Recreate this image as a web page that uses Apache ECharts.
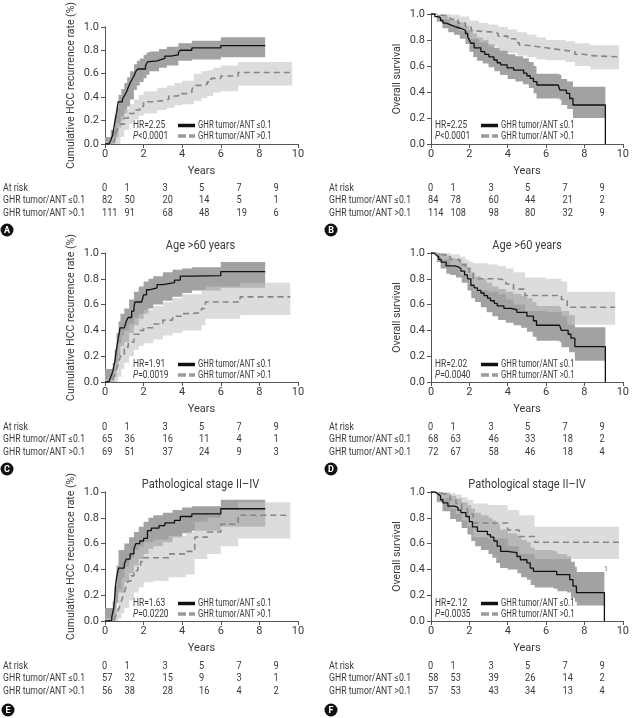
<!DOCTYPE html>
<html><head><meta charset="utf-8">
<script src="https://cdn.jsdelivr.net/npm/echarts@6/dist/echarts.min.js"></script>
<style>html,body{margin:0;padding:0;background:#fff}#c{width:632px;height:718px}</style>
</head><body><div id="c"></div>
<script>
// ---------- DATA ----------
const xTicks = [0, 2, 4, 6, 8, 10];
const riskYears = [0, 1, 3, 5, 7, 9];
const groupNames = ['GHR tumor/ANT \u22640.1', 'GHR tumor/ANT >0.1'];

// Panel A: cumulative HCC recurrence
const A_g1 = [[0,0],[0.2,0.01],[0.3,0.03],[0.4,0.08],[0.5,0.18],[0.6,0.27],[0.68,0.36],[0.9,0.38],[1.0,0.41],[1.1,0.44],[1.2,0.48],[1.3,0.52],[1.4,0.55],[1.5,0.58],[1.6,0.62],[1.7,0.64],[2.1,0.67],[2.2,0.70],[2.3,0.71],[2.7,0.72],[2.9,0.73],[3.1,0.75],[3.4,0.76],[3.8,0.78],[3.9,0.80],[4.5,0.82],[6.0,0.84],[8.3,0.84]];
const A_g2 = [[0,0],[0.3,0.02],[0.5,0.07],[0.6,0.11],[0.7,0.14],[0.8,0.17],[1.0,0.22],[1.2,0.26],[1.5,0.29],[1.8,0.32],[2.0,0.36],[2.5,0.37],[3.0,0.38],[3.3,0.41],[3.8,0.43],[4.2,0.44],[4.5,0.46],[4.6,0.50],[5.0,0.51],[5.3,0.53],[5.5,0.56],[6.0,0.58],[6.9,0.61],[9.7,0.61]];
const A_b1 = [[0,0,0.06],[0.3,0,0.12],[0.5,0.04,0.25],[0.6,0.06,0.31],[0.7,0.14,0.42],[0.85,0.2,0.47],[1.0,0.26,0.52],[1.15,0.32,0.57],[1.3,0.38,0.62],[1.5,0.46,0.68],[1.65,0.5,0.71],[1.8,0.53,0.73],[2.0,0.56,0.76],[2.15,0.59,0.78],[2.3,0.62,0.79],[2.8,0.65,0.81],[3.2,0.67,0.83],[3.8,0.71,0.86],[4.5,0.72,0.88],[6.0,0.74,0.91],[8.3,0.74,0.91]];
const A_b2 = [[0,0,0.02],[0.3,0,0.06],[0.6,0,0.18],[0.8,0.06,0.24],[1.0,0.12,0.30],[1.25,0.17,0.34],[1.5,0.21,0.38],[1.75,0.24,0.42],[2.0,0.26,0.45],[2.7,0.29,0.48],[3.2,0.31,0.50],[3.6,0.33,0.52],[4.0,0.34,0.54],[4.6,0.37,0.60],[5.0,0.39,0.62],[5.3,0.41,0.63],[5.6,0.44,0.65],[6.0,0.45,0.67],[6.9,0.50,0.70],[9.7,0.50,0.70]];
const A_risk1 = [82, 50, 20, 14, 5, 1];
const A_risk2 = [111, 91, 68, 48, 19, 6];

// Panel B: overall survival
const B_g1 = [[0,1],[0.2,0.98],[0.36,0.97],[0.5,0.95],[0.62,0.93],[0.8,0.915],[1.05,0.90],[1.3,0.89],[1.56,0.875],[1.8,0.85],[1.91,0.826],[2.0,0.80],[2.08,0.775],[2.25,0.74],[2.6,0.71],[2.8,0.69],[3.02,0.67],[3.28,0.646],[3.45,0.625],[3.63,0.608],[3.97,0.585],[4.31,0.569],[4.83,0.545],[5.0,0.525],[5.17,0.505],[5.34,0.48],[5.52,0.454],[6.63,0.454],[6.72,0.415],[7.06,0.39],[7.23,0.35],[7.4,0.30],[9.09,0.30],[9.09,0]];
const B_g2 = [[0,1],[0.3,0.99],[0.6,0.98],[1.0,0.96],[1.4,0.93],[1.8,0.90],[2.1,0.87],[2.3,0.86],[3.3,0.85],[3.5,0.83],[4.0,0.81],[4.4,0.78],[4.6,0.76],[5.0,0.75],[5.5,0.74],[6.0,0.73],[6.5,0.72],[7.0,0.71],[7.5,0.69],[8.0,0.68],[8.3,0.67],[9.8,0.67]];
const B_b1 = [[0,1,1],[0.3,0.94,0.995],[0.6,0.89,0.98],[0.9,0.86,0.96],[1.2,0.84,0.95],[1.5,0.81,0.935],[1.8,0.77,0.91],[2.0,0.71,0.88],[2.2,0.67,0.85],[2.4,0.64,0.82],[2.7,0.62,0.80],[3.0,0.59,0.77],[3.3,0.56,0.74],[3.6,0.53,0.72],[4.0,0.50,0.69],[4.4,0.48,0.675],[4.8,0.46,0.66],[5.1,0.43,0.63],[5.35,0.39,0.60],[5.5,0.35,0.54],[6.7,0.34,0.53],[6.8,0.30,0.50],[7.1,0.27,0.48],[7.4,0.20,0.44],[9.09,0.20,0.44]];
const B_b2 = [[0,1,1],[0.5,0.96,1],[1.0,0.92,0.995],[1.5,0.87,0.98],[2.0,0.81,0.95],[2.5,0.78,0.93],[3.0,0.75,0.92],[3.5,0.72,0.90],[4.0,0.70,0.88],[4.5,0.68,0.86],[5.0,0.67,0.84],[5.5,0.65,0.82],[6.0,0.645,0.80],[7.0,0.63,0.79],[7.5,0.60,0.775],[8.3,0.575,0.76],[9.8,0.575,0.76]];
const B_risk1 = [84, 78, 60, 44, 21, 2];
const B_risk2 = [114, 108, 98, 80, 32, 9];

// Panel C: recurrence, age > 60
const C_g1 = [[0,0],[0.2,0.01],[0.3,0.04],[0.4,0.08],[0.5,0.15],[0.6,0.26],[0.7,0.35],[0.78,0.42],[1.0,0.43],[1.1,0.47],[1.2,0.50],[1.38,0.55],[1.5,0.58],[1.55,0.62],[1.9,0.625],[2.0,0.675],[2.15,0.715],[2.3,0.73],[2.7,0.755],[3.0,0.77],[3.6,0.79],[3.9,0.82],[4.5,0.825],[6.0,0.855],[8.3,0.855]];
const C_g2 = [[0,0],[0.4,0.02],[0.5,0.06],[0.6,0.10],[0.7,0.15],[0.8,0.20],[1.0,0.27],[1.2,0.31],[1.5,0.37],[1.8,0.40],[2.0,0.42],[2.5,0.45],[3.0,0.48],[3.5,0.51],[4.0,0.53],[4.5,0.54],[5.0,0.57],[5.2,0.62],[7.0,0.66],[9.6,0.66]];
const C_b1 = [[0,0,0.1],[0.4,0,0.15],[0.5,0.04,0.25],[0.6,0.12,0.38],[0.7,0.2,0.47],[0.8,0.28,0.53],[1.0,0.31,0.57],[1.25,0.38,0.64],[1.5,0.44,0.70],[1.75,0.49,0.74],[2.0,0.53,0.78],[2.25,0.57,0.80],[2.5,0.60,0.82],[3.0,0.63,0.85],[3.5,0.66,0.87],[4.0,0.69,0.88],[4.5,0.71,0.89],[6.0,0.73,0.93],[8.3,0.73,0.93]];
const C_b2 = [[0,0,0.02],[0.4,0,0.08],[0.5,0,0.15],[0.7,0.04,0.30],[0.85,0.1,0.36],[1.0,0.15,0.40],[1.25,0.2,0.45],[1.5,0.25,0.50],[1.75,0.28,0.53],[2.0,0.30,0.56],[2.5,0.33,0.59],[3.0,0.36,0.62],[3.5,0.38,0.65],[4.0,0.40,0.68],[5.0,0.44,0.71],[5.2,0.49,0.74],[7.0,0.52,0.77],[9.6,0.52,0.77]];
const C_risk1 = [65, 36, 16, 11, 4, 1];
const C_risk2 = [69, 51, 37, 24, 9, 3];

// Panel D: survival, age > 60
const D_g1 = [[0,1],[0.15,0.985],[0.27,0.97],[0.4,0.95],[0.53,0.93],[0.79,0.90],[1.22,0.895],[1.4,0.88],[1.56,0.86],[1.75,0.83],[1.9,0.80],[2.08,0.75],[2.25,0.73],[2.42,0.71],[2.6,0.69],[2.77,0.67],[2.95,0.65],[3.1,0.63],[3.3,0.61],[3.45,0.59],[3.8,0.57],[4.14,0.56],[4.48,0.54],[5.0,0.51],[5.34,0.475],[5.5,0.44],[6.7,0.44],[6.8,0.40],[7.15,0.37],[7.3,0.34],[7.5,0.275],[9.09,0.275],[9.09,0]];
const D_g2 = [[0,1],[0.3,0.99],[0.5,0.98],[1.0,0.95],[1.5,0.91],[1.8,0.88],[2.0,0.85],[2.2,0.80],[3.5,0.79],[3.9,0.76],[4.3,0.72],[4.9,0.67],[6.8,0.64],[7.1,0.58],[9.6,0.58]];
const D_b1 = [[0,1,1],[0.3,0.93,1],[0.5,0.88,0.99],[0.8,0.84,0.98],[1.0,0.83,0.96],[1.3,0.81,0.95],[1.6,0.77,0.92],[1.9,0.71,0.89],[2.1,0.65,0.85],[2.3,0.62,0.82],[2.6,0.58,0.80],[2.9,0.54,0.77],[3.2,0.51,0.74],[3.5,0.48,0.72],[3.9,0.46,0.70],[4.3,0.44,0.685],[4.7,0.42,0.67],[5.0,0.39,0.65],[5.3,0.35,0.62],[5.5,0.32,0.59],[6.7,0.31,0.58],[6.8,0.27,0.55],[7.2,0.23,0.52],[7.5,0.165,0.425],[9.09,0.165,0.425]];
const D_b2 = [[0,1,1],[0.5,0.95,1],[1.0,0.89,0.99],[1.5,0.83,0.97],[1.8,0.79,0.95],[2.0,0.75,0.93],[2.2,0.71,0.92],[3.0,0.70,0.91],[3.5,0.68,0.90],[3.9,0.64,0.88],[4.3,0.60,0.85],[4.9,0.55,0.81],[6.0,0.54,0.80],[6.8,0.51,0.78],[7.1,0.443,0.70],[9.6,0.443,0.70]];
const D_risk1 = [68, 63, 46, 33, 18, 2];
const D_risk2 = [72, 67, 58, 46, 18, 4];

// Panel E: recurrence, pathological stage II-IV
const E_g1 = [[0,0],[0.2,0.005],[0.35,0.03],[0.45,0.1],[0.5,0.18],[0.55,0.28],[0.6,0.34],[0.7,0.41],[1.0,0.44],[1.1,0.48],[1.3,0.52],[1.5,0.56],[1.6,0.60],[1.8,0.62],[2.0,0.64],[2.2,0.70],[2.4,0.72],[2.8,0.74],[3.1,0.76],[3.6,0.78],[3.9,0.81],[4.5,0.83],[6.0,0.87],[8.3,0.87]];
const E_g2 = [[0,0],[0.5,0.02],[0.6,0.05],[0.7,0.09],[0.8,0.13],[0.9,0.18],[1.0,0.22],[1.1,0.27],[1.2,0.31],[1.35,0.35],[1.5,0.39],[1.7,0.43],[1.85,0.46],[2.0,0.49],[3.3,0.52],[4.2,0.54],[4.65,0.65],[5.3,0.69],[6.0,0.75],[6.9,0.82],[9.6,0.82]];
const E_b1 = [[0,0,0.1],[0.4,0,0.15],[0.5,0.04,0.27],[0.6,0.14,0.43],[0.7,0.22,0.55],[1.0,0.30,0.60],[1.25,0.37,0.65],[1.5,0.43,0.69],[1.75,0.48,0.73],[2.0,0.52,0.77],[2.25,0.56,0.80],[2.5,0.58,0.82],[3.0,0.61,0.84],[3.5,0.65,0.86],[4.0,0.68,0.88],[4.5,0.70,0.89],[6.0,0.73,0.94],[8.3,0.73,0.94]];
const E_b2 = [[0,0,0.02],[0.5,0,0.1],[0.7,0.02,0.25],[0.85,0.06,0.34],[1.0,0.10,0.42],[1.25,0.16,0.49],[1.5,0.22,0.55],[1.75,0.26,0.58],[2.0,0.30,0.61],[2.5,0.31,0.63],[3.3,0.34,0.66],[4.2,0.36,0.69],[4.65,0.48,0.77],[5.3,0.52,0.80],[6.0,0.58,0.86],[6.9,0.64,0.92],[9.6,0.64,0.92]];
const E_risk1 = [57, 32, 15, 9, 3, 1];
const E_risk2 = [56, 38, 28, 16, 4, 2];

// Panel F: survival, pathological stage II-IV
const F_g1 = [[0,1],[0.2,0.985],[0.36,0.97],[0.5,0.94],[0.62,0.915],[0.88,0.89],[1.22,0.88],[1.4,0.86],[1.56,0.84],[1.82,0.81],[2.0,0.77],[2.16,0.73],[2.42,0.695],[2.94,0.67],[3.1,0.65],[3.28,0.62],[3.45,0.58],[3.63,0.54],[3.97,0.53],[4.48,0.50],[4.66,0.475],[5.0,0.45],[5.17,0.41],[5.34,0.385],[6.4,0.385],[6.55,0.36],[7.06,0.36],[7.23,0.32],[7.4,0.27],[7.58,0.22],[9.04,0.22],[9.04,0]];
const F_g2 = [[0,1],[0.3,0.99],[0.5,0.98],[1.0,0.94],[1.3,0.91],[1.6,0.87],[1.9,0.83],[2.2,0.76],[4.0,0.705],[4.6,0.655],[5.4,0.61],[9.8,0.61]];
const F_b1 = [[0,1,1],[0.3,0.92,1],[0.6,0.85,0.99],[1.0,0.79,0.97],[1.3,0.77,0.95],[1.6,0.72,0.92],[1.9,0.67,0.90],[2.1,0.62,0.87],[2.3,0.58,0.84],[2.6,0.55,0.82],[3.0,0.52,0.80],[3.2,0.49,0.78],[3.4,0.45,0.75],[3.6,0.41,0.71],[4.0,0.40,0.68],[4.5,0.37,0.66],[4.7,0.34,0.63],[5.0,0.32,0.61],[5.2,0.28,0.57],[5.4,0.26,0.55],[6.4,0.25,0.54],[6.6,0.23,0.52],[7.1,0.22,0.50],[7.3,0.18,0.46],[7.5,0.15,0.42],[7.6,0.12,0.38],[9.04,0.12,0.38]];
const F_b2 = [[0,1,1],[0.5,0.95,1],[1.0,0.87,0.99],[1.3,0.83,0.98],[1.6,0.78,0.96],[1.9,0.73,0.94],[2.2,0.65,0.91],[3.0,0.64,0.90],[4.0,0.58,0.86],[4.6,0.52,0.82],[5.4,0.48,0.73],[9.8,0.48,0.73]];
const F_risk1 = [58, 53, 39, 26, 14, 2];
const F_risk2 = [57, 53, 43, 34, 13, 4];

const panelLetters = ['A', 'B', 'C', 'D', 'E', 'F'];
const panelTitles = ['', '', 'Age >60 years', 'Age >60 years', 'Pathological stage II\u2013IV', 'Pathological stage II\u2013IV'];
const hrValues = ['2.25', '2.25', '1.91', '2.02', '1.63', '2.12'];
const pValues = ['<0.0001', '<0.0001', '=0.0019', '=0.0040', '=0.0220', '=0.0035'];
const yNames = ['Cumulative HCC recurrence rate (%)', 'Overall survival'];

// ---------- LAYOUT / STYLE ----------
const FONT = 'Roboto, "Noto Sans", sans-serif';
const TXT = '#3a3a3a';
const layout = [
  {left: 105, top: 14, w: 193, h: 130, kind: 0},
  {left: 431, top: 14, w: 194, h: 130, kind: 1},
  {left: 105, top: 253, w: 193, h: 129, kind: 0},
  {left: 431, top: 253, w: 194, h: 129, kind: 1},
  {left: 105, top: 492, w: 193, h: 129, kind: 0},
  {left: 431, top: 492, w: 194, h: 129, kind: 1}
];
const panelData = [
  [A_g1, A_g2, A_b1, A_b2, A_risk1, A_risk2],
  [B_g1, B_g2, B_b1, B_b2, B_risk1, B_risk2],
  [C_g1, C_g2, C_b1, C_b2, C_risk1, C_risk2],
  [D_g1, D_g2, D_b1, D_b2, D_risk1, D_risk2],
  [E_g1, E_g2, E_b1, E_b2, E_risk1, E_risk2],
  [F_g1, F_g2, F_b1, F_b2, F_risk1, F_risk2]
];
const riskColOffsets = [-3, 19.5, 57.5, 94, 131.5, 168.5];
const letterPos = [[7,230],[331,230],[7,469],[331,469],[8,710],[331,710]];

const chart = echarts.init(document.getElementById('c'), null, {renderer: 'canvas'});
const grids = [], xAxes = [], yAxes = [], series = [], graphics = [];

// Step-shaped confidence band drawn as one polygon through the axis scales
function bandSeries(i, band, color, z) {
  series.push({
    type: 'custom', xAxisIndex: i, yAxisIndex: i, silent: true, z: z, clip: true,
    dimensions: ['t', 'lo', 'hi'],
    encode: {x: 0, y: [1, 2]},
    data: band,
    renderItem: function (params, api) {
      if (params.dataIndexInside !== 0) return null;
      const n = params.dataInsideLength;
      const upper = [], lower = [];
      for (let k = 0; k < n; k++) {
        const t = api.value(0, k), lo = api.value(1, k), hi = api.value(2, k);
        const tNext = k < n - 1 ? api.value(0, k + 1) : t;
        upper.push(api.coord([t, hi]), api.coord([tNext, hi]));
        lower.push(api.coord([t, lo]), api.coord([tNext, lo]));
      }
      const pts = upper.concat(lower.reverse());
      return {type: 'polygon', shape: {points: pts}, style: {fill: color, stroke: null}};
    }
  });
}

function txt(x, y, text, style, sx) {
  graphics.push({
    type: 'text', x: x, y: y, silent: true, scaleX: sx || 1,
    style: Object.assign({text: text, fill: TXT, font: '10px ' + FONT, textAlign: 'left', textVerticalAlign: 'middle'}, style || {})
  });
}

layout.forEach((L, i) => {
  const [g1, g2, b1, b2, r1, r2] = panelData[i];
  grids.push({left: L.left, top: L.top, width: L.w, height: L.h, containLabel: false});
  xAxes.push({
    type: 'value', gridIndex: i, min: 0, max: 10, interval: 2,
    name: 'Years', nameLocation: 'middle', nameGap: 22,
    nameTextStyle: {fontFamily: FONT, fontSize: 11, color: TXT},
    axisLine: {show: true, lineStyle: {color: '#555', width: 1}},
    axisTick: {show: true, inside: false, length: 4, lineStyle: {color: '#555'}},
    axisLabel: {fontFamily: FONT, fontSize: 11, color: TXT, margin: 5},
    splitLine: {show: false}
  });
  yAxes.push({
    type: 'value', gridIndex: i, min: 0, max: 1, interval: 0.2,
    name: yNames[L.kind], nameLocation: 'middle', nameGap: 28,
    nameTextStyle: {fontFamily: FONT, fontSize: 10.5, color: TXT},
    axisLine: {show: true, lineStyle: {color: '#555', width: 1}},
    axisTick: {show: true, inside: false, length: 4, lineStyle: {color: '#555'}},
    axisLabel: {fontFamily: FONT, fontSize: 11, color: TXT, margin: 6, formatter: v => v.toFixed(1)},
    splitLine: {show: false}
  });
  bandSeries(i, b1, '#a2a2a2', 2);
  bandSeries(i, b2, 'rgba(196,196,196,0.6)', 3);
  series.push({type: 'line', xAxisIndex: i, yAxisIndex: i, step: 'end', symbol: 'none', silent: true, z: 5,
    lineStyle: {color: '#858585', width: 1.6, type: [6, 4]}, data: g2});
  series.push({type: 'line', xAxisIndex: i, yAxisIndex: i, step: 'end', symbol: 'none', silent: true, z: 6,
    lineStyle: {color: '#111', width: 1.3}, data: g1});

  // panel title
  if (panelTitles[i]) {
    txt(L.left + L.w / 2 - 1, L.top - 7, panelTitles[i], {font: '12px ' + FONT, textAlign: 'center'}, 0.92);
  }

  // HR / P / legend
  const hx = L.kind === 0 ? L.left + 28 : L.left + 4;
  const lx = L.kind === 0 ? L.left + 73 : L.left + 50;
  const y1 = L.top + 111.5, y2 = L.top + 122;
  txt(hx, y1, 'HR=' + hrValues[i], {font: '10px ' + FONT}, 0.84);
  txt(hx, y2, '{i|P}' + pValues[i], {font: '10px ' + FONT, rich: {i: {fontStyle: 'italic', fontSize: 10, fontFamily: FONT, fill: TXT}}}, 0.84);
  graphics.push({type: 'line', silent: true, shape: {x1: lx, y1: y1, x2: lx + 17, y2: y1}, style: {stroke: '#111', lineWidth: 3.5}});
  graphics.push({type: 'line', silent: true, shape: {x1: lx, y1: y2, x2: lx + 17, y2: y2}, style: {stroke: '#9a9a9a', lineWidth: 3.5, lineDash: [8, 3]}});
  txt(lx + 20, y1, groupNames[0], {font: '10px ' + FONT}, 0.78);
  txt(lx + 20, y2, groupNames[1], {font: '10px ' + FONT}, 0.78);

  // risk table
  const tx = L.kind === 0 ? 3 : 329;
  const ry = [L.top + 174, L.top + 186.5, L.top + 199];
  txt(tx, ry[0], 'At risk', null, 0.88);
  txt(tx, ry[1], groupNames[0], null, 0.87);
  txt(tx, ry[2], groupNames[1], null, 0.87);
  riskYears.forEach((yr, k) => {
    const cx = L.left + riskColOffsets[k];
    txt(cx, ry[0], String(yr), null, 0.92);
    txt(cx, ry[1], String(r1[k]), null, 0.92);
    txt(cx, ry[2], String(r2[k]), null, 0.92);
  });

  // panel letter
  const [px, py] = letterPos[i];
  graphics.push({type: 'circle', silent: true, shape: {cx: px, cy: py, r: 6.5}, style: {fill: '#111'}});
  txt(px, py + 0.5, panelLetters[i], {font: 'bold 9px ' + FONT, fill: '#fff', textAlign: 'center'});
});

// small censor-count annotation in panel F
txt(606, 569, '1', {font: '8px ' + FONT, fill: '#777', textAlign: 'center'});

chart.setOption({
  animation: false,
  backgroundColor: '#fff',
  grid: grids, xAxis: xAxes, yAxis: yAxes, series: series,
  graphic: {elements: graphics}
});
</script>
</body></html>
